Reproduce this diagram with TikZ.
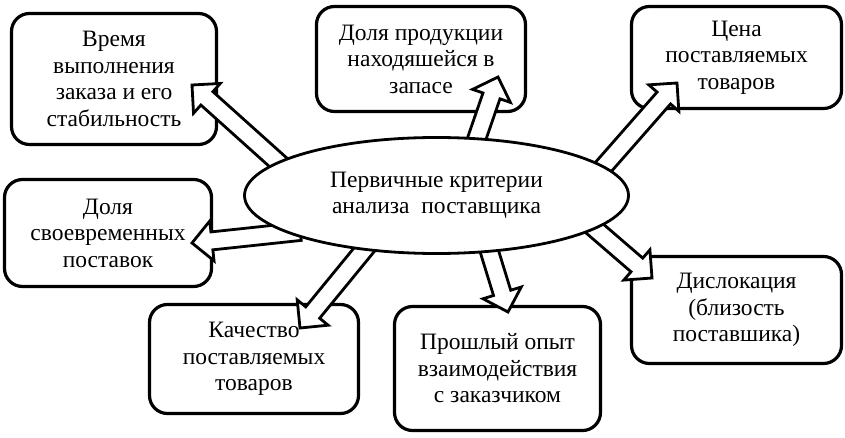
\documentclass[tikz,border=0pt]{standalone}
\usepackage{fontspec}
\setmainfont{Liberation Serif}
\usetikzlibrary{shapes.geometric,calc}
\pgfdeclarelayer{front}
\pgfsetlayers{main,front}
\tikzset{
  critbox/.style={draw, line width=3.2pt, rounded corners=18pt, fill=white, align=center, inner sep=0pt},
  critarrow/.style={draw, line width=2.8pt, fill=white, line join=miter},
}
\newcommand{\hollowarrow}[2]{%
  \path ($(#1)!-14pt!(#2)$) coordinate (ha-s) ($(#2)!20pt!(#1)$) coordinate (ha-b);
  \draw [critarrow] ($(ha-s)!9pt!90:(#2)$) -- ($(ha-b)!9pt!90:(#2)$) -- ($(ha-b)!20pt!90:(#2)$) -- (#2)
    -- ($(ha-b)!20pt!-90:(#2)$) -- ($(ha-b)!9pt!-90:(#2)$) -- ($(ha-s)!9pt!-90:(#2)$) -- cycle;}

\begin{document}
\begin{tikzpicture}[x=1pt,y=-1pt,font=\fontsize{23.5}{26.5}\selectfont]
\useasboundingbox (0,0) rectangle (845,438);
\begin{pgfonlayer}{front}
\node [ellipse, draw, line width=2.8pt, fill=white, minimum width=384pt, minimum height=116pt, inner sep=0pt, align=center] (crit) at (436.5,195.5) {Первичные критерии\\анализа\ \ поставщика};
\end{pgfonlayer}
\node [critbox, minimum width=205pt, minimum height=131pt] (time) at (114,79) {Время\\выполнения\\заказа и его\\стабильность};
\node [critbox, minimum width=209pt, minimum height=105pt] (stock) at (421,59) {Доля продукции\\находяшейся в\\запасе};
\node [critbox, minimum width=210pt, minimum height=102pt] (price) at (736.5,57.5) {Цена\\поставляемых\\товаров};
\node [critbox, minimum width=207pt, minimum height=107pt] (share) at (108,233) {Доля\\своевременных\\поставок};
\node [critbox, minimum width=209pt, minimum height=109pt] (quality) at (254,359) {Качество\\поставляемых\\товаров};
\node [critbox, minimum width=206pt, minimum height=124pt] (past) at (497.5,368.5) {Прошлый опыт\\взаимодействия\\с заказчиком};
\node [critbox, minimum width=210pt, minimum height=107pt] (place) at (736.5,310) {Дислокация\\(близость\\поставшика)};
\coordinate (tip1) at (192,85);
\coordinate (tip2) at (498,77);
\coordinate (tip3) at (677,83);
\coordinate (tip4) at (192,243);
\coordinate (tip5) at (300,328);
\coordinate (tip6) at (508,312);
\coordinate (tip7) at (652,278);
\hollowarrow{crit.168}{tip1}
\hollowarrow{crit.55}{tip2}
\hollowarrow{crit.10}{tip3}
\hollowarrow{crit.194}{tip4}
\hollowarrow{crit.217}{tip5}
\hollowarrow{crit.313}{tip6}
\hollowarrow{crit.348}{tip7}
\end{tikzpicture}
\end{document}
